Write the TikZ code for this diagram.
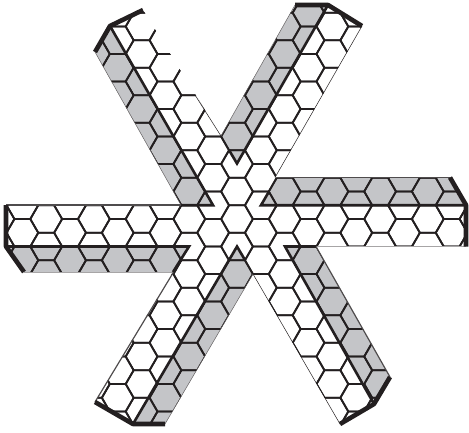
\documentclass[tikz,border=0pt]{standalone}
\definecolor{bandgray}{HTML}{C4C5C8}
\definecolor{ink}{HTML}{231F20}
\tikzset{
  lattice/.style={draw=ink,line width=1.8bp,line join=miter},
  band/.style={fill=bandgray,draw=none},
  inner/.style={draw=ink,line width=2.6bp,line join=miter},
  rim/.style={draw=ink,line width=4.6bp,line join=round,line cap=butt},
  edge/.style={draw=ink!80,line width=1.2bp},
  thinedge/.style={draw=ink,line width=0.5bp},
  paleedge/.style={draw=ink!40,line width=0.8bp}
}
\begin{document}
\begin{tikzpicture}[x=1bp,y=-1bp]
\useasboundingbox (0,0) rectangle (469,432);
% grey bands
\fill[band] (295,5)--(328,5)--(237,163)--(229,150)--(221,136)--cycle;
\fill[band] (261,205)--(277,177.5)--(450,177.5)--(466,205)--cycle;
\fill[band] (285,246.5)--(316,246.5)--(390,377)--(374,404)--cycle;
\fill[band] (237,247)--(245,260)--(253,274)--(165,424)--(133,424)--cycle;
\fill[band] (6,246.5)--(189,246.5)--(173,272)--(24,272)--cycle;
\fill[band] (95,52)--(110,26)--(213,205)--(181,205)--cycle;
% honeycomb clipped to the star
\begin{scope}
\clip (295,5)--(328,5)--(362,26)--(275,177.5)--(450,177.5)--(466,205)--(466,246.5)--(316,246.5)--(390,377)--(374,404)--(340,424)--(253,274)--(165,424)--(133,424)--(95,402)--(173,272)--(24,272)--(6,246.5)--(6,205)--(181,205)--(95,52)--(110,26)--(143,10)--(221,136)--cycle;
\foreach \i in {-10,...,10}{
  \foreach \j in {-8,...,8}{
    \pgfmathsetmacro{\cx}{237+23.85*\i}
    \pgfmathsetmacro{\cy}{191.5+27.5*\j+(mod(abs(\i),2)==1?13.75:0)}
    \draw[lattice] (\cx-15.9,\cy)--(\cx-7.95,\cy-13.75)--(\cx+7.95,\cy-13.75)--(\cx+15.9,\cy)--(\cx+7.95,\cy+13.75)--(\cx-7.95,\cy+13.75)--cycle;
  }
}
\end{scope}
% free edges
\draw[thinedge] (362,26)--(275,177.5);
\draw[thinedge] (340,424)--(253,274);
\draw[thinedge] (195,95)--(221,136);
\draw[thinedge,draw=ink!70] (221,136)--(295,5);
\draw[thinedge,draw=ink!70] (95,52)--(181,205);
\draw[thinedge,draw=ink!70] (253,274)--(165,424);
\draw[paleedge] (316,246.5)--(466,246.5);
\draw[paleedge] (24,272)--(173,272);
\draw[edge] (277,177.5)--(450,177.5);
\draw[edge] (6,205)--(181,205);
\draw[edge] (189,246.5)--(95,402);
\draw[edge] (316,246.5)--(390,377);
% inner heavy lines
\draw[inner] (229,150)--(237,163.5)--(328,5);
\draw[inner] (269,191.5)--(261,205.2)--(466,205.2);
\draw[inner] (316,246.5)--(285,246.5)--(374,404);
\draw[inner] (245,260)--(237,246.5)--(133,424);
\draw[inner] (6,246.5)--(189,246.5)--(173,272);
\draw[inner] (110,26)--(213,205.2)--(181,205.2);
% heavy rims
\draw[rim] (295,5)--(328,5)--(362,26);
\draw[rim] (450,177.5)--(466,205)--(466,246.5);
\draw[rim] (390,377)--(374,404)--(340,424);
\draw[rim] (165,424)--(133,424)--(95,402);
\draw[rim] (24,272)--(6,246.5)--(6,205);
\draw[rim] (95,52)--(110,26)--(143,10);
\end{tikzpicture}
\end{document}
